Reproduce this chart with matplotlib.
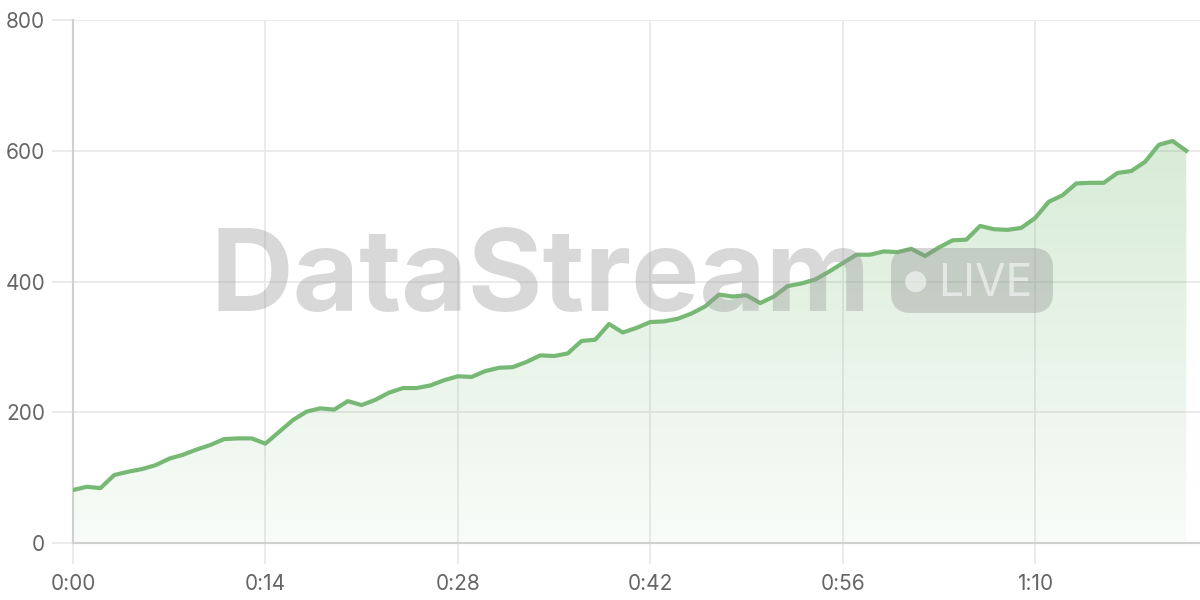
import matplotlib.pyplot as plt
import numpy as np
from matplotlib.patches import FancyBboxPatch, Circle

# seconds since start, one reading per second
seconds = list(range(0, 82))
values = [81, 86, 84, 104, 109, 113, 119, 129, 135, 143,
          150, 159, 160, 160, 152, 170, 188, 201, 206, 204,
          217, 211, 219, 230, 237, 237, 241, 249, 255, 254,
          263, 268, 269, 277, 287, 286, 290, 309, 311, 335,
          322, 329, 338, 339, 343, 351, 362, 380, 377, 379,
          367, 377, 393, 397, 403, 415, 428, 441, 441, 446,
          445, 450, 439, 452, 463, 464, 485, 480, 479, 482,
          497, 522, 532, 550, 551, 551, 566, 569, 583, 609,
          615, 600]
xticks = [0, 14, 28, 42, 56, 70]
yticks = [0, 200, 400, 600, 800]

plt.rcParams['font.family'] = ['Inter', 'DejaVu Sans']

fig = plt.figure(figsize=(12, 6), dpi=100)
ax = fig.add_axes([73 / 1200, 57 / 600, 1 - 73 / 1200, 523 / 600])

line_color = '#76b874'

# gradient fill under the line
x = np.array(seconds)
y = np.array(values)
grad = np.zeros((256, 1, 4))
grad[:, 0, 0] = 0.35
grad[:, 0, 1] = 0.68
grad[:, 0, 2] = 0.35
grad[:, 0, 3] = np.linspace(0.04, 0.24, 256)
im = ax.imshow(grad, aspect='auto', origin='lower',
               extent=[x.min(), x.max(), 0, y.max()], zorder=1)
poly = ax.fill_between(x, y, 0, color='none', linewidth=0)
im.set_clip_path(poly.get_paths()[0], transform=ax.transData)

ax.plot(x, y, color=line_color, linewidth=3, zorder=4, solid_joinstyle='round')

ax.set_xlim(0, 82)
ax.set_ylim(0, 800)
ax.set_xticks(xticks)
ax.set_xticklabels([f'{s // 60}:{s % 60:02d}' for s in xticks])
ax.set_yticks(yticks)

# enfeites
ax.grid(True, color='#e8e8e8', linewidth=1.2, zorder=0)
ax.set_axisbelow(True)
for side in ['top', 'right']:
    ax.spines[side].set_visible(False)
for side in ['left', 'bottom']:
    ax.spines[side].set_color('#d0d0d0')
    ax.spines[side].set_linewidth(1.5)
ax.tick_params(axis='both', colors='#e8e8e8', length=15, width=1.2,
               labelcolor='#666666', labelsize=15)
ax.tick_params(axis='x', pad=7)
ax.tick_params(axis='y', pad=5)

# watermark (posicoes em polegadas, figura 12x6)
inch = fig.dpi_scale_trans
fig.text(2.10, 6 - 3.11, 'DataStream', transform=inch, fontsize=82.5,
         fontweight='bold', color='#999999', alpha=0.38,
         ha='left', va='baseline', zorder=3)
badge = FancyBboxPatch((8.91, 6 - 3.13), 1.62, 0.65,
                       boxstyle='round,pad=0,rounding_size=0.2',
                       transform=inch, facecolor='#8f8f8f',
                       edgecolor='none', alpha=0.36, zorder=3)
fig.patches.append(badge)
dot = Circle((9.157, 6 - 2.817), 0.105, transform=inch,
             facecolor='white', edgecolor='none', alpha=0.55, zorder=4)
fig.patches.append(dot)
fig.text(9.38, 6 - 2.96, 'LIVE', transform=inch, fontsize=32,
         color='white', alpha=0.55, ha='left', va='baseline', zorder=4)

plt.savefig('out.png', dpi=100)
